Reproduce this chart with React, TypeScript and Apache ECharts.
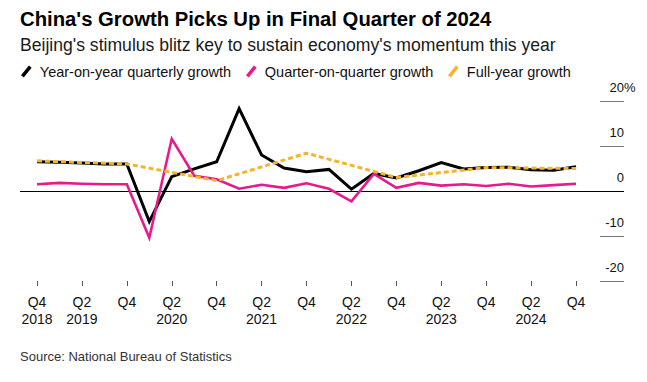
import React, { useEffect, useRef } from 'react';
import * as echarts from 'echarts';

const categories = [
  'Q4 2018', 'Q1 2019', 'Q2 2019', 'Q3 2019', 'Q4 2019',
  'Q1 2020', 'Q2 2020', 'Q3 2020', 'Q4 2020',
  'Q1 2021', 'Q2 2021', 'Q3 2021', 'Q4 2021',
  'Q1 2022', 'Q2 2022', 'Q3 2022', 'Q4 2022',
  'Q1 2023', 'Q2 2023', 'Q3 2023', 'Q4 2023',
  'Q1 2024', 'Q2 2024', 'Q3 2024', 'Q4 2024',
];

const yoyGrowth = [
  6.5, 6.4, 6.2, 6.0, 6.0,
  -6.8, 3.2, 4.9, 6.5,
  18.3, 8.0, 5.1, 4.3,
  4.8, 0.4, 3.9, 2.9,
  4.5, 6.3, 4.9, 5.2,
  5.3, 4.7, 4.6, 5.4,
];

const qoqGrowth = [
  1.5, 1.8, 1.6, 1.5, 1.5,
  -10.4, 11.6, 3.4, 2.6,
  0.5, 1.4, 0.7, 1.7,
  0.5, -2.3, 3.8, 0.7,
  1.8, 1.2, 1.5, 1.1,
  1.6, 1.0, 1.3, 1.6,
];

const fullYearGrowth = [
  6.7, null, null, null, 6.0,
  null, null, null, 2.3,
  null, null, null, 8.4,
  null, null, null, 3.0,
  null, null, null, 5.2,
  null, null, null, 5.0,
];

const xTickLabels = [
  'Q4\n2018', 'Q2\n2019', 'Q4', 'Q2\n2020', 'Q4', 'Q2\n2021', 'Q4',
  'Q2\n2022', 'Q4', 'Q2\n2023', 'Q4', 'Q2\n2024', 'Q4',
];

const yMin = -20;
const yMax = 20;
const yInterval = 10;

const seriesNames = ['Year-on-year quarterly growth', 'Quarter-on-quarter growth', 'Full-year growth'];
const colors = ['#000000', '#e8198b', '#f4b52c'];

const FONT = '"Liberation Sans", Arial, Helvetica, sans-serif';
const slashIcon = 'path://M0,10.2 L8.2,0 L11,2.2 L2.8,12.4 Z';

export default function App() {
  const ref = useRef<HTMLDivElement>(null);

  useEffect(() => {
    if (!ref.current) return;
    const chart = echarts.init(ref.current, null, { renderer: 'svg' });

    const legendBase = {
      top: 64,
      padding: 0,
      orient: 'horizontal',
      icon: slashIcon,
      itemWidth: 11,
      itemHeight: 12,
      selectedMode: false,
      textStyle: { fontFamily: FONT, fontSize: 14.5, color: '#111', padding: [0, 0, 0, 3] },
    };

    const option: any = {
      animation: false,
      textStyle: { fontFamily: FONT },
      title: [
        {
          text: "China's Growth Picks Up in Final Quarter of 2024",
          left: 20,
          top: 6.5,
          padding: 0,
          textStyle: { fontFamily: FONT, fontSize: 20.3, fontWeight: 'bold', color: '#000', lineHeight: 24 },
        },
        {
          text: "Beijing's stimulus blitz key to sustain economy's momentum this year",
          left: 20,
          top: 34.5,
          padding: 0,
          textStyle: { fontFamily: FONT, fontSize: 17.6, fontWeight: 'normal', color: '#1a1a1a', lineHeight: 20 },
        },
        {
          text: 'Source: National Bureau of Statistics',
          left: 20,
          top: 348.5,
          padding: 0,
          textStyle: { fontFamily: FONT, fontSize: 13, fontWeight: 'normal', color: '#333', lineHeight: 15 },
        },
      ],
      legend: [
        { ...legendBase, left: 21, data: [{ name: seriesNames[0], itemStyle: { color: colors[0] } }] },
        { ...legendBase, left: 246, data: [{ name: seriesNames[1], itemStyle: { color: colors[1] } }] },
        { ...legendBase, left: 448, data: [{ name: seriesNames[2], itemStyle: { color: colors[2] } }] },
      ],
      grid: { left: 37, right: 71, top: 101, bottom: 101, containLabel: false },
      xAxis: {
        type: 'category',
        data: categories,
        boundaryGap: false,
        axisLine: { show: false, onZero: false },
        axisTick: {
          show: true,
          length: 5,
          interval: 1,
          lineStyle: { color: '#555', width: 1 },
        },
        axisLabel: {
          interval: 1,
          formatter: (_v: string, i: number) => xTickLabels[i / 2] ?? '',
          margin: 12,
          fontFamily: FONT,
          fontSize: 14,
          lineHeight: 17,
          color: '#111',
        },
        splitLine: { show: false },
      },
      yAxis: {
        type: 'value',
        position: 'right',
        offset: 24,
        min: yMin,
        max: yMax,
        interval: yInterval,
        axisLine: { show: false },
        axisTick: { show: true, length: 24, lineStyle: { color: '#777', width: 1 } },
        splitLine: { show: false },
        axisLabel: {
          margin: 24,
          align: 'right',
          verticalAlign: 'bottom',
          lineHeight: 15,
          padding: [0, 0, 6, 0],
          fontFamily: FONT,
          fontSize: 13,
          color: '#111',
          formatter: (v: number) => String(v),
        },
      },
      series: [
        {
          name: seriesNames[0],
          type: 'line',
          data: yoyGrowth,
          symbol: 'none',
          lineStyle: { color: colors[0], width: 3, join: 'miter' },
          itemStyle: { color: colors[0] },
          z: 3,
        },
        {
          name: seriesNames[1],
          type: 'line',
          data: qoqGrowth,
          symbol: 'none',
          lineStyle: { color: colors[1], width: 2.6, join: 'miter' },
          itemStyle: { color: colors[1] },
          z: 4,
        },
        {
          name: seriesNames[2],
          type: 'line',
          data: fullYearGrowth,
          connectNulls: true,
          symbol: 'none',
          lineStyle: { color: colors[2], width: 3, type: [5, 3] },
          itemStyle: { color: colors[2] },
          z: 5,
        },
      ],
    };

    chart.setOption(option);

    const y0 = chart.convertToPixel({ yAxisIndex: 0 }, 0) as number;
    const yTop = chart.convertToPixel({ yAxisIndex: 0 }, yMax) as number;
    const yRight = 576 + 24 + 24;

    chart.setOption({
      graphic: [
        {
          type: 'line',
          z: 1,
          shape: { x1: 20, y1: Math.round(y0) + 0.5, x2: yRight, y2: Math.round(y0) + 0.5 },
          style: { stroke: '#000', lineWidth: 1 },
        },
        {
          type: 'text',
          x: yRight,
          y: yTop - 13.5,
          style: {
            text: '%',
            fontFamily: FONT,
            fontSize: 13,
            fill: '#111',
            align: 'left',
            verticalAlign: 'middle',
          },
        },
      ],
    });

    return () => chart.dispose();
  }, []);

  return (
    <div
      ref={ref}
      style={{ position: 'fixed', left: 0, top: 0, width: 647, height: 382, background: '#fff' }}
    />
  );
}
